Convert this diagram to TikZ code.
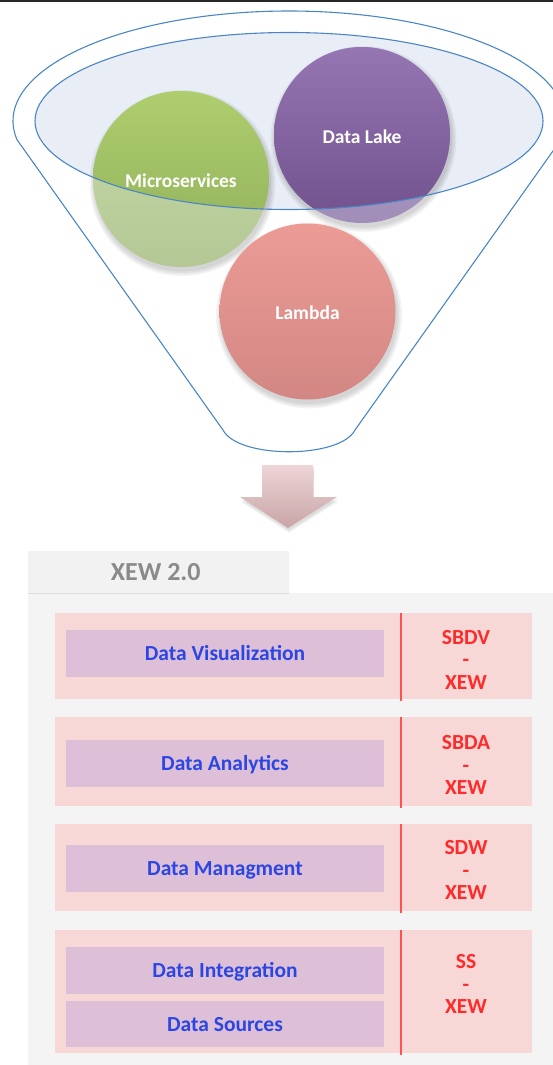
\documentclass[tikz,border=0pt]{standalone}
\usepackage{fontspec}
\setmainfont{Carlito}
\usetikzlibrary{calc}

\definecolor{funnelblue}{HTML}{4A86C4}
\definecolor{bowl}{HTML}{E9EDF5}
\definecolor{greenTop}{HTML}{AECE6E}
\definecolor{greenBot}{HTML}{8FAE5A}
\definecolor{greenTopL}{HTML}{C6DAA8}
\definecolor{greenBotL}{HTML}{B3C894}
\definecolor{purpleTop}{HTML}{9576B3}
\definecolor{purpleBot}{HTML}{70518C}
\definecolor{purpleTopL}{HTML}{B5A5CC}
\definecolor{purpleBotL}{HTML}{A08DB8}
\definecolor{redTop}{HTML}{EC9B95}
\definecolor{redBot}{HTML}{D28784}
\definecolor{arrowTop}{HTML}{EED5D6}
\definecolor{arrowBot}{HTML}{C8A5A7}
\definecolor{panelgray}{HTML}{F4F4F4}
\definecolor{tabgray}{HTML}{F2F2F2}
\definecolor{tabline}{HTML}{DCDCDC}
\definecolor{tabtext}{HTML}{8A8A8A}
\definecolor{bandpink}{HTML}{F8D7D7}
\definecolor{layerpurple}{HTML}{DEBFD8}
\definecolor{layerblue}{HTML}{2B46E2}
\definecolor{tagred}{HTML}{FF2A2A}
\definecolor{divred}{HTML}{FF5252}

\tikzset{
  funnel/.style={draw=funnelblue, line width=1.1pt},
  ball/.style={circle, minimum size=176pt, inner sep=0pt},
  balltext/.style={text=white, font=\fontsize{19.5}{21}\selectfont\bfseries,
    text height=12.5pt, text depth=0pt, inner sep=0pt},
  band/.style={fill=bandpink, anchor=north west, minimum width=477pt, inner sep=0pt},
  layer/.style={fill=layerpurple, minimum width=318pt, minimum height=47pt, inner sep=0pt,
    text=layerblue, font=\fontsize{21.5}{22.5}\selectfont\bfseries,
    text height=14pt, text depth=0pt},
  tag/.style={text=tagred, align=center, inner sep=0pt,
    font=\fontsize{21.5}{22.5}\selectfont\bfseries},
  divider/.style={draw=divred, line width=1.3pt},
}

\begin{document}
\begin{tikzpicture}[x=1pt, y=-1pt]
\useasboundingbox (0,0) rectangle (553,1065);
\clip (0,0) rectangle (553,1065);

% rule along the top edge
\draw[line width=1.4pt, black!85] (0,1.2) -- (553,1.2);

% ---------------- funnel ----------------
\coordinate (rim) at (289,121);
\coordinate (pMicro) at (181,179);
\coordinate (pLake) at (362,135);
\coordinate (pLambda) at (307.5,311.5);

% bowl surface
\fill[bowl] (rim) ellipse[x radius=254, y radius=88.5];

% soft shadows under the balls
\foreach \p in {pMicro,pLake,pLambda}{
  \foreach \r in {88.5,90,91.5,93}{
    \fill[black, opacity=0.045] ($(\p)+(1.5,4)$) circle[radius=\r pt];
  }
}

% balls (paler where they hang below the rim)
\node[ball, top color=greenTopL, bottom color=greenBotL] (micro) at (pMicro) {};
\node[ball, top color=purpleTopL, bottom color=purpleBotL] (lake) at (pLake) {};
\node[ball, top color=redTop, bottom color=redBot] (lambda) at (pLambda) {};

% stronger colour inside the rim
\begin{scope}
  \clip (rim) ellipse[x radius=254, y radius=88.5];
  \shade[top color=greenTop, bottom color=greenBot] (micro.center) circle[radius=88pt];
  \shade[top color=purpleTop, bottom color=purpleBot] (lake.center) circle[radius=88pt];
\end{scope}

% rim outline
\draw[funnel] (rim) ellipse[x radius=254, y radius=88.5];

% funnel body
\draw[funnel] (17.03,139.72) arc[start angle=170.2, end angle=369.8, x radius=276, y radius=110]
  -- (355,430) .. controls (340,459) and (238,459) .. (223,430) -- cycle;

% ball labels
\node[balltext] (microText) at ($(micro)+(0,2)$) {Microservices};
\node[balltext] (lakeText) at ($(lake)+(0,2)$) {Data Lake};
\node[balltext] (lambdaText) at ($(lambda)+(0,1.5)$) {Lambda};

% ---------------- down arrow ----------------
\foreach \d in {1,2,3,4}{
  \fill[black, opacity=0.035] ($(0,\d)+(1,1)$) ++(262,465) -- ++(51,0) -- ++(0,32) -- ++(24,0)
    -- ++(-49,31) -- ++(-48,-31) -- ++(22,0) -- cycle;
}
\shade[top color=arrowTop, bottom color=arrowBot]
  (262,465) -- (313,465) -- (313,497) -- (337,497) -- (288,528) -- (240,497) -- (262,497) -- cycle;

% ---------------- layer stack ----------------
\node[fill=panelgray, anchor=north west, minimum width=525pt, minimum height=472pt, inner sep=0pt]
  (panel) at (28,593) {};
\node[fill=tabgray, anchor=north west, minimum width=261pt, minimum height=42pt, inner sep=0pt,
  text=tabtext, font=\fontsize{26}{28}\selectfont\bfseries, text height=16.5pt, text depth=0pt]
  (tab) at (28,551) {\hspace*{-6pt}XEW 2.0};
\draw[tabline, line width=0.8pt] (tab.south west) -- (tab.south east);

\coordinate (divx) at (401,0);

% band 1
\node[band, minimum height=86pt] (bandA) at (55,613) {};
\node[layer] (vis) at (225,653.5) {Data Visualization};
\node[tag] (tagA) at (466,659.5) {SBDV\\-\\XEW};
\draw[divider] (bandA.north -| divx) -- ($(bandA.south -| divx)+(0,2)$);

% band 2
\node[band, minimum height=89pt] (bandB) at (55,717) {};
\node[layer] (ana) at (225,763) {Data Analytics};
\node[tag] (tagB) at (466,765) {SBDA\\-\\XEW};
\draw[divider] (bandB.north -| divx) -- ($(bandB.south -| divx)+(0,2)$);

% band 3
\node[band, minimum height=87pt] (bandC) at (55,824) {};
\node[layer] (man) at (225,868) {Data Managment};
\node[tag] (tagC) at (466,870) {SDW\\-\\XEW};
\draw[divider] (bandC.north -| divx) -- ($(bandC.south -| divx)+(0,2)$);

% band 4
\node[band, minimum height=123pt] (bandD) at (55,930) {};
\node[layer] (integ) at (225,970.5) {Data Integration};
\node[layer, minimum height=46pt] (src) at (225,1024) {Data Sources};
\node[tag] (tagD) at (466,984) {SS\\-\\XEW};
\draw[divider] (bandD.north -| divx) -- ($(bandD.south -| divx)+(0,2)$);

\end{tikzpicture}
\end{document}
